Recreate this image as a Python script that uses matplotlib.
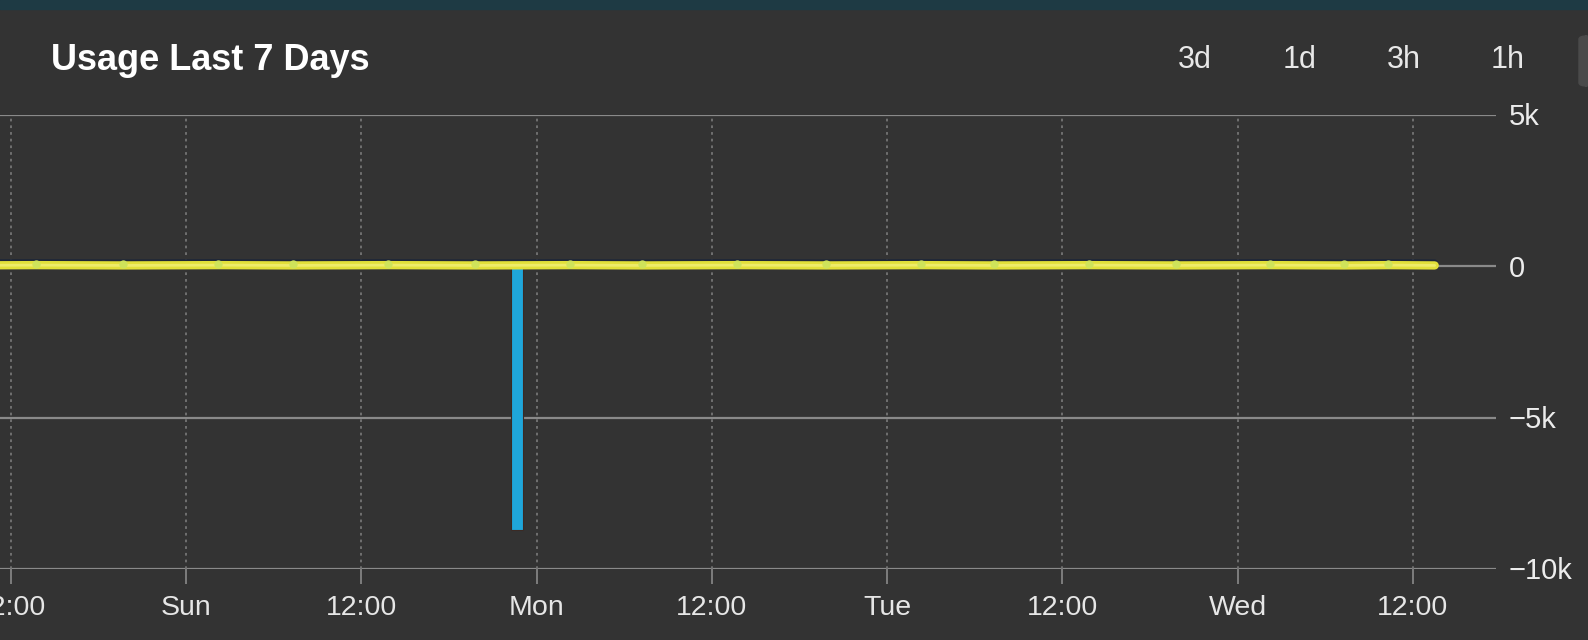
import matplotlib
matplotlib.use("Agg")
import matplotlib.pyplot as plt
from matplotlib.patches import Rectangle, FancyBboxPatch

plt.rcParams['font.family'] = ['Liberation Sans', 'DejaVu Sans']

# hours since Saturday 00:00
tick_hours = [12, 24, 36, 48, 60, 72, 84, 96, 108]
tick_labels = ["12:00", "Sun", "12:00", "Mon", "12:00", "Tue", "12:00", "Wed", "12:00"]

usage_hours = [8.0, 13.7, 19.7, 26.2, 31.3, 37.8, 43.8, 50.3, 55.2, 61.7, 67.8,
               74.3, 79.3, 85.8, 91.8, 98.2, 103.3, 106.3, 109.5]
usage_vals = [30, 40, 30, 40, 30, 40, 30, 40, 30, 40, 30, 40, 30, 40, 30, 40, 30, 40, 30]

bar_hours = [46.66]
bar_vals = [-8700]

y_ticks = [5000, 0, -5000, -10000]
y_labels = ["5k", "0", "\u22125k", "\u221210k"]
buttons = ["3d", "1d", "3h", "1h"]

BG = "#333333"
W, H = 1588, 640

fig = plt.figure(figsize=(W / 100, H / 100), dpi=100, facecolor=BG)

# strip of background image at the very top
fig.patches.append(Rectangle((0, 1 - 9 / H), 1, 9 / H, transform=fig.transFigure,
                             color="#1e3a44", zorder=0))
# scrollbar-ish handle on the right
fig.patches.append(FancyBboxPatch((1579 / W, 1 - 86 / H), 14 / W, 50 / H,
                                  boxstyle="round,pad=0,rounding_size=0.005",
                                  transform=fig.transFigure, color="#4a4a4a", zorder=0))

ax = fig.add_axes([0, 1 - 569 / H, 1496 / W, (569 - 115) / H])
ax.set_facecolor(BG)
ax.set_xlim(11.25, 113.7)
ax.set_ylim(-10000, 5000)

for y in y_ticks:
    ax.axhline(y, color="#8a8a8a", lw=1.6, zorder=1)
for x in tick_hours:
    ax.axvline(x, color="#757575", lw=1.3, ls=(0, (1.5, 2.2)), zorder=1)

ax.bar(bar_hours, bar_vals, width=0.82, align="center", color="#1fa6da",
       edgecolor="#3b2a24", linewidth=0.8, zorder=3)

ax.plot(usage_hours, [v + 110 for v in usage_vals], color="#202838", lw=4, zorder=4,
        solid_capstyle="round")
ax.plot(usage_hours, usage_vals, color="#e2e03a", lw=6, zorder=5,
        solid_capstyle="round")
ax.plot(usage_hours, usage_vals, color="#eeec6a", lw=2, zorder=5,
        solid_capstyle="round")
ax.plot(usage_hours[1:-1], [v + 40 for v in usage_vals[1:-1]], ls="none", marker="o",
        ms=5, color="#cfe35a", zorder=6)

for s in ax.spines.values():
    s.set_visible(False)

ax.set_xticks(tick_hours)
ax.set_xticklabels(tick_labels, fontsize=20.5, color="#e6e6e6")
ax.tick_params(axis="x", length=11, width=1.2, color="#8a8a8a", pad=8)
ax.set_yticks([])

for y, lab in zip(y_ticks, y_labels):
    ax.text(1509 / 1496, y - 80, lab, transform=ax.get_yaxis_transform(), ha="left",
            va="center", fontsize=21, color="#ececec", clip_on=False)

fig.text(51 / W, 1 - 60 / H, "Usage Last 7 Days", fontsize=26, fontweight="bold",
         color="white", ha="left", va="center")
for i, b in enumerate(buttons):
    fig.text((1195 + i * 104.3) / W, 1 - 60 / H, b, fontsize=22, color="#e8e8e8",
             ha="center", va="center")

fig.savefig("out.png", dpi=100, facecolor=BG)
